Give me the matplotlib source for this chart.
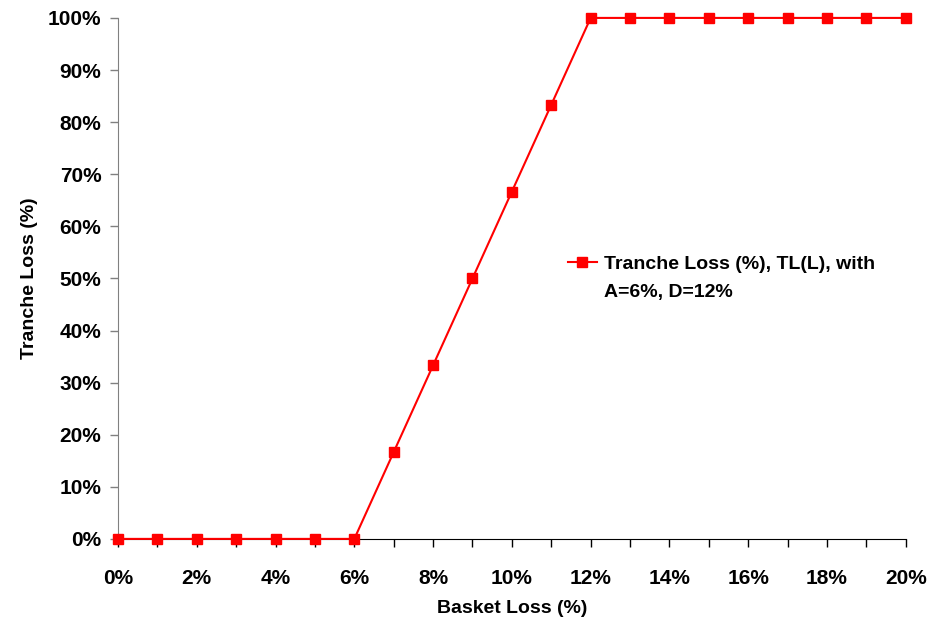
import matplotlib
matplotlib.use("Agg")
import matplotlib.pyplot as plt
from matplotlib.lines import Line2D
from matplotlib.ticker import MultipleLocator, FuncFormatter

basket_loss = [0, 1, 2, 3, 4, 5, 6, 7, 8, 9, 10, 11, 12, 13, 14, 15, 16, 17, 18, 19, 20]
tranche_loss = [0, 0, 0, 0, 0, 0, 0, 16.67, 33.33, 50, 66.67, 83.33, 100,
                100, 100, 100, 100, 100, 100, 100, 100]
series_label_1 = "Tranche Loss (%), TL(L), with"
series_label_2 = "A=6%, D=12%"
x_label = "Basket Loss (%)"
y_label = "Tranche Loss (%)"

plt.rcParams['font.family'] = ['Liberation Sans', 'DejaVu Sans']
plt.rcParams['font.weight'] = 'bold'

fig = plt.figure(figsize=(9.29, 6.18), dpi=100)
ax = fig.add_axes([0.127, 0.128, 0.848, 0.843])

line, = ax.plot(basket_loss, tranche_loss, color='#ff0000', lw=1.5, marker='s',
                markersize=7, clip_on=False, zorder=3)

ax.set_xlim(0, 20)
ax.set_ylim(0, 100)
ax.xaxis.set_major_locator(MultipleLocator(1))
ax.xaxis.set_major_formatter(FuncFormatter(lambda v, p: f"{int(round(v))}%" if int(round(v)) % 2 == 0 else ""))
ax.yaxis.set_major_locator(MultipleLocator(10))
ax.yaxis.set_major_formatter(FuncFormatter(lambda v, p: f"{int(round(v))}%"))

for s in ['top', 'right']:
    ax.spines[s].set_visible(False)
ax.spines['left'].set_color('#808080')
ax.spines['bottom'].set_color('#000000')
ax.tick_params(axis='x', direction='out', length=6, width=1, colors='black', labelsize=15, pad=16)
ax.tick_params(axis='y', direction='out', length=6, width=1, color='#808080', labelcolor='black', labelsize=15, pad=6)
for lbl in ax.get_xticklabels() + ax.get_yticklabels():
    lbl.set_fontweight('bold')

ax.set_xlabel(x_label, fontsize=14, fontweight='bold', labelpad=8)
ax.set_ylabel(y_label, fontsize=14, fontweight='bold', labelpad=7)

blank = Line2D([], [], linestyle='none', marker=None)
leg = ax.legend([line, blank], [series_label_1, series_label_2],
                loc='upper left', bbox_to_anchor=(0.571, 0.545), frameon=False,
                fontsize=14, handlelength=1.5, handletextpad=0.35, borderpad=0,
                borderaxespad=0, labelspacing=0.55)

fig.savefig("out.png", dpi=100, facecolor='white')
